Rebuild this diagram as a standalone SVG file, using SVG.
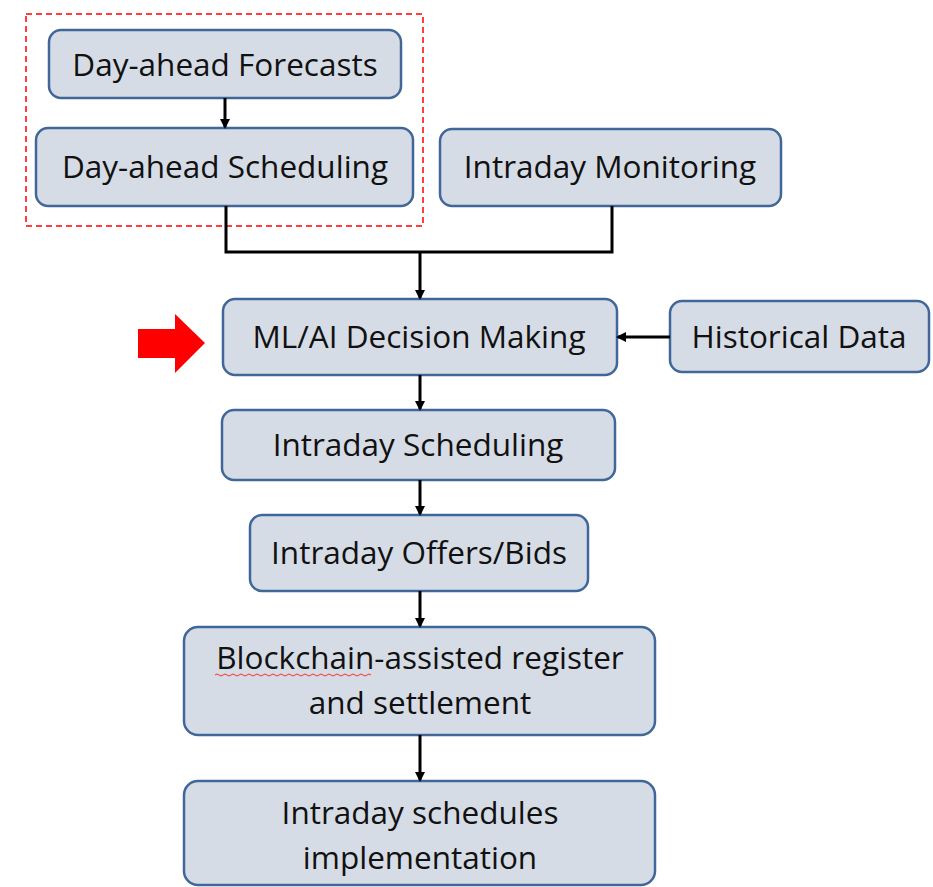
<svg xmlns="http://www.w3.org/2000/svg" width="933" height="887" viewBox="0 0 933 887">
<style>
.box{fill:#d6dce5;stroke:#41679a;stroke-width:2.5}
.t{font-family:"Open Sans","Liberation Sans",sans-serif;font-size:31.5px;fill:#111;text-anchor:middle}
.c{fill:none;stroke:#000;stroke-width:3}
</style>
<defs>
<marker id="ah" markerWidth="10" markerHeight="10" refX="8" refY="5" orient="auto" markerUnits="userSpaceOnUse">
<path d="M0,0 L10,5 L0,10 Z" fill="#000"/>
</marker>
</defs>
<rect x="26" y="14" width="397" height="212" fill="none" stroke="#ff0000" stroke-width="1.5" stroke-dasharray="6,4"/>
<g id="n1"><rect class="box" x="49" y="30" width="352" height="68" rx="12"/><text class="t" x="225" y="76">Day-ahead Forecasts</text></g>
<g id="n2"><rect class="box" x="36" y="128" width="377" height="78" rx="12"/><text class="t" x="225" y="178">Day-ahead Scheduling</text></g>
<g id="n3"><rect class="box" x="440" y="129" width="341" height="77" rx="12"/><text class="t" x="610" y="178">Intraday Monitoring</text></g>
<g id="n4"><rect class="box" x="223" y="299" width="394" height="76" rx="12"/><text class="t" x="419" y="348">ML/AI Decision Making</text></g>
<g id="n5"><rect class="box" x="670" y="301" width="259" height="71" rx="12"/><text class="t" x="799" y="348">Historical Data</text></g>
<g id="n6"><rect class="box" x="222" y="410" width="393" height="70" rx="12"/><text class="t" x="418" y="456">Intraday Scheduling</text></g>
<g id="n7"><rect class="box" x="250" y="515" width="338" height="76" rx="12"/><text class="t" x="419" y="564">Intraday Offers/Bids</text></g>
<g id="n8"><rect class="box" x="184" y="627" width="471" height="108" rx="14"/><text class="t" x="420" y="669">Blockchain-assisted register</text><text class="t" x="420" y="714">and settlement</text>
<path d="M215,675 q2,-2 4,0 t4,0 t4,0 t4,0 t4,0 t4,0 t4,0 t4,0 t4,0 t4,0 t4,0 t4,0 t4,0 t4,0 t4,0 t4,0 t4,0 t4,0 t4,0 t4,0 t4,0 t4,0 t4,0 t4,0 t4,0 t4,0 t4,0 t4,0 t4,0 t4,0 t4,0 t4,0 t4,0 t4,0 t4,0 t4,0 t4,0 t4,0 t4,0" fill="none" stroke="#ff3030" stroke-width="1"/></g>
<g id="n9"><rect class="box" x="184" y="781" width="471" height="104" rx="14"/><text class="t" x="420" y="824">Intraday schedules</text><text class="t" x="420" y="869">implementation</text></g>
<path id="redarrow" d="M138,329 L175,329 L175,314 L205,343 L175,373 L175,358 L138,358 Z" fill="#ff0000"/>
<g id="connectors">
<line class="c" x1="225" y1="98" x2="225" y2="127" marker-end="url(#ah)"/>
<path class="c" d="M226,206 V252 H612 V206"/>
<line class="c" x1="420" y1="252" x2="420" y2="298" marker-end="url(#ah)"/>
<line class="c" x1="670" y1="337" x2="618" y2="337" marker-end="url(#ah)"/>
<line class="c" x1="420" y1="375" x2="420" y2="409" marker-end="url(#ah)"/>
<line class="c" x1="420" y1="480" x2="420" y2="514" marker-end="url(#ah)"/>
<line class="c" x1="420" y1="591" x2="420" y2="626" marker-end="url(#ah)"/>
<line class="c" x1="420" y1="735" x2="420" y2="780" marker-end="url(#ah)"/>
</g>
</svg>
